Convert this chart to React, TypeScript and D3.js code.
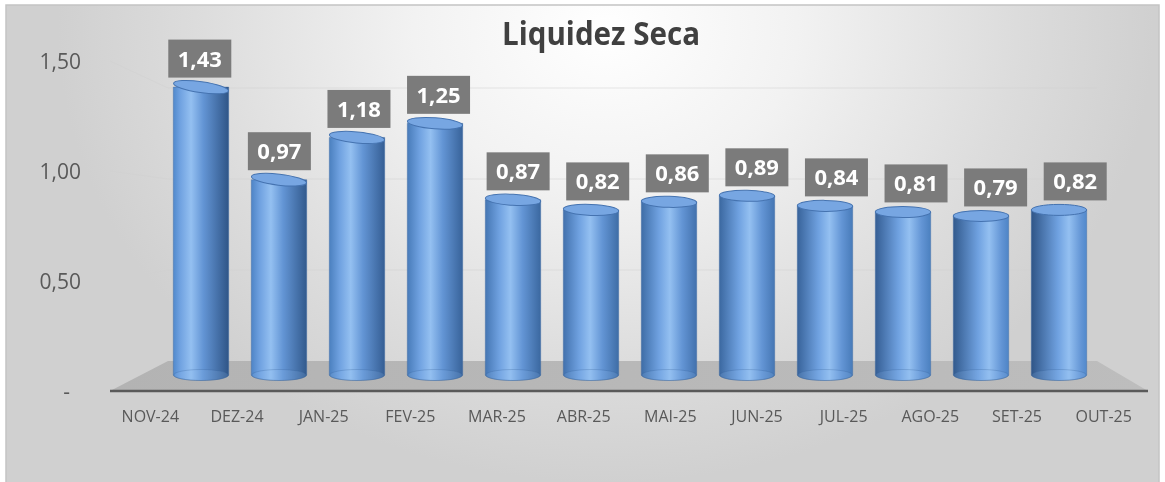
import React from "react";
import * as d3 from "d3";

const categories = ["NOV-24", "DEZ-24", "JAN-25", "FEV-25", "MAR-25", "ABR-25", "MAI-25", "JUN-25", "JUL-25", "AGO-25", "SET-25", "OUT-25"];
const values = [1.43, 0.97, 1.18, 1.25, 0.87, 0.82, 0.86, 0.89, 0.84, 0.81, 0.79, 0.82];
const yTicks = [0, 0.5, 1.0, 1.5];
const yTickLabels = ["-", "0,50", "1,00", "1,50"];
const title = "Liquidez Seca";

const W = 1165;
const H = 482;
const fmt = (v: number) => v.toFixed(2).replace(".", ",");

const App = () => {
  // three depth planes: front edge (axis labels), mid (bars), back wall (gridlines)
  const yFront = d3.scaleLinear().domain([0, 1.5]).range([391, 61]);
  const yBar = d3.scaleLinear().domain([0, 1.5]).range([375, 73]);
  const yBack = d3.scaleLinear().domain([0, 1.5]).range([361, 88]);

  const xFront = d3.scaleBand().domain(categories).range([107, 1147]);
  const xBar = d3.scaleBand().domain(categories).range([162, 1098]).paddingInner(0.29).paddingOuter(0.145);
  const xLab = d3.scaleBand().domain(categories).range([160, 1115]);

  const bw = xBar.bandwidth();
  const ry = 5.5;
  const n = categories.length;

  const darkLeft = d3.interpolateRgb("#5189cc", "#2f5587");
  const darkRight = d3.interpolateRgb("#2f5587", "#5189cc");

  return (
    <div style={{ position: "fixed", left: 0, top: 0 }}>
      <svg width={W} height={H} style={{ display: "block" }}>
        <defs>
          <radialGradient id="bg" cx="0.52" cy="0.05" r="0.95" gradientTransform="translate(0.26,0) scale(0.5,1)">
            <stop offset="0" stopColor="#ffffff" />
            <stop offset="0.35" stopColor="#f2f2f2" />
            <stop offset="0.75" stopColor="#dcdcdc" />
            <stop offset="1" stopColor="#d0d0d0" />
          </radialGradient>
          <linearGradient id="floor" x1="0" x2="1" y1="0" y2="0">
            <stop offset="0" stopColor="#b3b3b3" />
            <stop offset="1" stopColor="#bdbdbd" />
          </linearGradient>
          {categories.map((c, i) => {
            const t = i / (n - 1);
            const hl = 0.32 + 0.36 * t;
            return (
              <linearGradient key={c} id={`bar${i}`} x1="0" x2="1" y1="0" y2="0">
                <stop offset="0" stopColor={darkLeft(t)} />
                <stop offset={Math.max(0.05, hl - 0.2)} stopColor="#6fa1e0" />
                <stop offset={hl} stopColor="#94c0f1" />
                <stop offset={Math.min(0.95, hl + 0.22)} stopColor="#6395d5" />
                <stop offset="1" stopColor={darkRight(t)} />
              </linearGradient>
            );
          })}
        </defs>

        <rect x={6} y={5} width={1153} height={478} fill="url(#bg)" stroke="#c4c4c4" strokeWidth={1.5} />

        <text x={601} y={45} textAnchor="middle" fontFamily="'Open Sans', sans-serif" fontWeight={700}
          fontSize={32} fill="#404040" textLength={198} lengthAdjust="spacingAndGlyphs">
          {title}
        </text>

        {/* gridlines: left wall + back wall */}
        {yTicks.filter((v) => v > 0).map((v) => (
          <polyline key={v} fill="none" stroke="#cfcfcf" strokeOpacity={0.5} strokeWidth={1}
            points={`110,${yFront(v)} 168,${yBack(v)} 1097,${yBack(v)}`} />
        ))}

        {/* floor */}
        <polygon points={`110,${yFront(0)} 168,${yBack(0)} 1097,${yBack(0)} 1148,${yFront(0)}`} fill="url(#floor)" />
        <line x1={110} x2={1148} y1={yFront(0)} y2={yFront(0)} stroke="#5a5a5a" strokeWidth={2.5} />

        {/* y axis labels */}
        {yTicks.map((v, i) => (
          <text key={v} x={v === 0 ? 70 : 81} y={yFront(v) + 8} textAnchor="end"
            fontFamily="'Open Sans', sans-serif" fontSize={21} fill="#595959">
            {yTickLabels[i]}
          </text>
        ))}

        {/* x labels */}
        {categories.map((c) => (
          <text key={c} x={xFront(c)! + xFront.bandwidth() / 2} y={422} textAnchor="middle"
            fontFamily="'Open Sans', sans-serif" fontSize={16} fill="#595959">
            {c}
          </text>
        ))}

        {/* cylinders */}
        {categories.map((c, i) => {
          const t = i / (n - 1);
          const x0 = xBar(c)!;
          const x1 = x0 + bw;
          const cx = x0 + bw / 2;
          const yb = yBar(0);
          const yt = yBar(values[i]);
          const rot = 8 * Math.pow(1 - t, 2);
          const body = `M${x0},${yt} L${x0},${yb} A${bw / 2},${ry} 0 0 0 ${x1},${yb} L${x1},${yt} Z`;
          return (
            <g key={c}>
              <path d={body} fill={`url(#bar${i})`} stroke="#3a679f" strokeWidth={0.8} strokeOpacity={0.5} />
              <ellipse cx={cx} cy={yb} rx={bw / 2 - 0.5} ry={ry} fill="#8fbaf0" fillOpacity={0.18}
                stroke="#2f5b94" strokeOpacity={0.25} />
              <ellipse cx={cx} cy={yt} rx={bw / 2} ry={ry} fill="#77a6e2" stroke="#4573b0" strokeWidth={1}
                transform={`rotate(${rot},${cx},${yt})`} />
            </g>
          );
        })}

        {/* data labels */}
        {categories.map((c, i) => {
          const cx = xLab(c)! + xLab.bandwidth() / 2;
          const yt = yBar(values[i]) - ry - 4;
          return (
            <g key={c}>
              <rect x={cx - 31.5} y={yt - 38} width={63} height={38} fill="#7b7b7b" />
              <text x={cx} y={yt - 11} textAnchor="middle" fontFamily="'Open Sans', sans-serif"
                fontWeight={700} fontSize={22} fill="#ffffff">
                {fmt(values[i])}
              </text>
            </g>
          );
        })}
      </svg>
    </div>
  );
};

export default App;
